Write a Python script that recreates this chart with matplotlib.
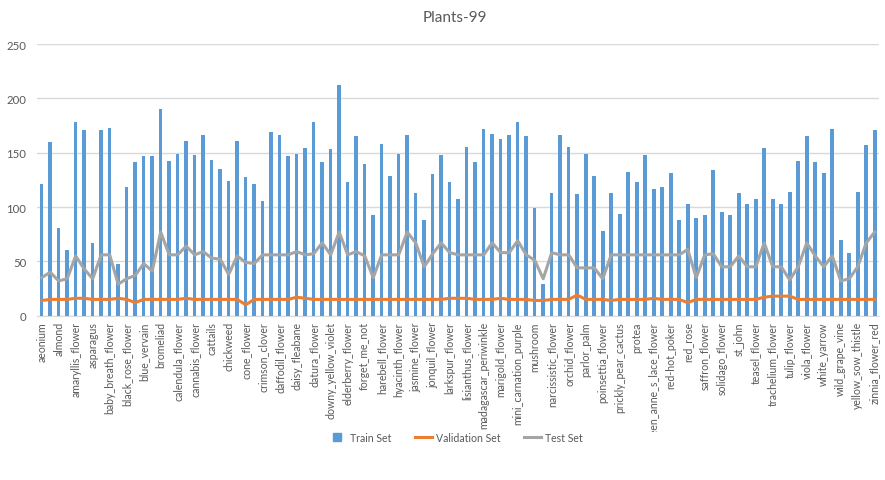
import matplotlib
matplotlib.use("Agg")
import matplotlib.pyplot as plt
import numpy as np
from matplotlib.lines import Line2D
from matplotlib.transforms import Bbox, TransformedBbox

plt.rcParams['font.family'] = ['Lato', 'DejaVu Sans']

# Every other class name is printed on the axis
shown_labels = [
    "aeonium", "almond", "amaryllis_flower", "asparagus", "baby_breath_flower",
    "black_rose_flower", "blue_vervain", "bromeliad", "calendula_flower",
    "cannabis_flower", "cattails", "chickweed", "cone_flower", "crimson_clover",
    "daffodil_flower", "daisy_fleabane", "datura_flower", "downy_yellow_violet",
    "elderberry_flower", "forget_me_not", "harebell_flower", "hyacinth_flower",
    "jasmine_flower", "jonquil_flower", "larkspur_flower", "lisianthus_flower",
    "madagascar_periwinkle", "marigold_flower", "mini_carnation_purple",
    "mushroom", "narcissistic_flower", "orchid_flower", "parlor_palm",
    "poinsettia_flower", "prickly_pear_cactus", "protea",
    "queen_anne_s_lace_flower", "red-hot_poker", "red_rose", "saffron_flower",
    "solidago_flower", "st_john", "teasel_flower", "trachelium_flower",
    "tulip_flower", "viola_flower", "white_yarrow", "wild_grape_vine",
    "yellow_sow_thistle", "zinnia_flower_red",
]

train_set = [
    121, 160, 81, 60, 178, 171, 67, 171, 173, 48,
    118, 141, 147, 147, 190, 142, 149, 161, 148, 166,
    143, 135, 124, 161, 128, 121, 106, 169, 166, 147,
    149, 154, 178, 141, 153, 212, 123, 165, 140, 93,
    158, 129, 149, 166, 113, 88, 130, 148, 123, 107,
    155, 141, 172, 167, 163, 166, 178, 165, 99, 29,
    113, 166, 155, 112, 149, 129, 78, 113, 94, 132,
    123, 148, 117, 118, 131, 88, 103, 90, 93, 134,
    95, 93, 113, 103, 107, 154, 107, 103, 114, 142,
    165, 141, 131, 172, 70, 58, 114, 157, 171,
]

validation_set = [
    14, 15, 15, 15, 16, 16, 15, 15, 15, 16,
    15, 12, 15, 15, 15, 15, 15, 16, 15, 15,
    15, 15, 15, 15, 10, 15, 15, 15, 15, 15,
    17, 16, 15, 15, 15, 15, 15, 15, 15, 15,
    15, 15, 15, 15, 15, 15, 15, 15, 16, 16,
    16, 15, 15, 15, 16, 15, 15, 15, 14, 14,
    15, 15, 15, 19, 15, 15, 15, 14, 15, 15,
    15, 15, 16, 15, 15, 15, 12, 15, 15, 15,
    15, 15, 15, 15, 15, 17, 18, 18, 18, 15,
    15, 15, 15, 15, 15, 15, 15, 15, 15,
]

test_set = [
    35, 40, 32, 34, 55, 43, 34, 56, 56, 29,
    34, 37, 48, 41, 77, 56, 56, 64, 56, 59,
    53, 52, 38, 55, 49, 48, 56, 56, 56, 56,
    59, 56, 57, 67, 56, 77, 56, 59, 55, 35,
    56, 56, 56, 77, 67, 45, 57, 67, 58, 56,
    56, 56, 56, 67, 58, 58, 69, 56, 51, 34,
    58, 56, 56, 44, 44, 44, 34, 56, 56, 56,
    56, 56, 56, 56, 56, 56, 61, 35, 56, 57,
    45, 45, 55, 45, 45, 67, 45, 45, 33, 45,
    67, 55, 45, 55, 32, 34, 45, 67, 77,
]

BLUE = "#5B9BD5"
ORANGE = "#ED7D31"
GRAY = "#A5A5A5"
TEXT = "#595959"
GRID = "#D9D9D9"

fig = plt.figure(figsize=(8.85, 4.81), dpi=100)
ax = fig.add_axes([0.0423, 0.3416, 0.9509, 0.5648])

x = np.arange(len(train_set))
ax.bar(x, train_set, width=0.42, color=BLUE, zorder=2)
ax.plot(x, validation_set, color=ORANGE, lw=2.2, zorder=3, solid_joinstyle='round')
ax.plot(x, test_set, color=GRAY, lw=2.2, zorder=4, solid_joinstyle='round')

ax.set_xlim(-0.5, len(train_set) - 0.5)
ax.set_ylim(0, 250)
ax.set_yticks(np.arange(0, 251, 50))
ax.yaxis.grid(True, color=GRID, lw=1)
ax.set_axisbelow(True)
for side in ("top", "right", "left"):
    ax.spines[side].set_visible(False)
ax.spines["bottom"].set_color(GRID)
ax.tick_params(axis="both", length=0, colors=TEXT)
ax.tick_params(axis="y", labelsize=8.2, pad=8)

ax.set_xticks(x[::2])
ax.set_xticklabels(shown_labels, rotation=90, fontsize=7.6, color=TEXT)
ax.tick_params(axis="x", pad=4)

# long category names are cut off above the legend band
clip = TransformedBbox(Bbox([[0.0, 0.0998], [1.0, 0.34]]), fig.transFigure)
for lbl in ax.get_xticklabels():
    lbl.set_clip_on(True)
    lbl.set_clip_box(clip)

fig.text(0.514, 0.963, "Plants-99", ha="center", va="center",
         fontsize=11, color=TEXT)

handles = [
    Line2D([], [], marker="s", ls="none", markersize=6, color=BLUE),
    Line2D([], [], color=ORANGE, lw=2.2),
    Line2D([], [], color=GRAY, lw=2.2),
]
fig.legend(handles, ["Train Set", "Validation Set", "Test Set"],
           loc="center", bbox_to_anchor=(0.515, 0.089), ncol=3,
           frameon=False, fontsize=7.6, handlelength=1.6,
           columnspacing=2.2, handletextpad=0.4, labelcolor=TEXT)

fig.savefig("out.png", dpi=100)
